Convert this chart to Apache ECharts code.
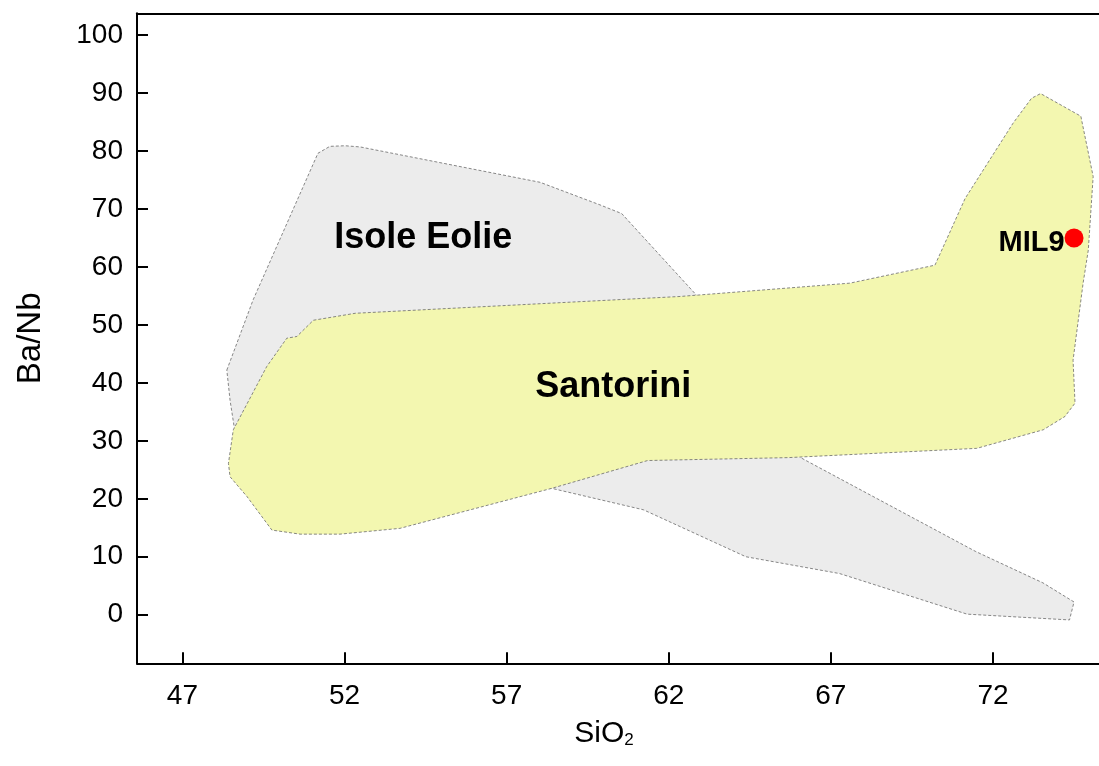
<!DOCTYPE html>
<html>
<head>
<meta charset="utf-8">
<script src="https://cdn.jsdelivr.net/npm/echarts@6/dist/echarts.min.js"></script>
<style>
  html, body { margin: 0; padding: 0; background: #ffffff; }
  #chart { width: 1099px; height: 766px; }
</style>
</head>
<body>
<div id="chart"></div>
<script>
// ---- Tick labels ----
const xTicks = [47, 52, 57, 62, 67, 72];
const yTicks = [0, 10, 20, 30, 40, 50, 60, 70, 80, 90, 100];

// ---- Isole Eolie field (SiO2, Ba/Nb outline) ----
const eolieSiO2 = [48.37, 49.18, 51.18, 51.55, 52.02, 52.48, 58.03, 59.88, 60.55, 62.86, 66.10, 71.47, 73.54, 74.50, 74.36, 71.20, 67.27, 64.38, 61.22, 58.39, 55.25, 50.63, 48.66, 48.47];
const eolieBaNb = [42.2, 54.3, 79.6, 80.8, 80.9, 80.7, 74.6, 70.7, 69.2, 55.1, 27.0, 10.9, 5.5, 2.2, -0.9, 0.1, 7.1, 10.0, 18.1, 21.8, 25.0, 30.1, 30.1, 37.0];

// ---- Santorini field (SiO2, Ba/Nb outline) ----
const santoriniSiO2 = [51.04, 52.33, 62.35, 67.59, 70.21, 71.14, 72.62, 73.19, 73.47, 74.71, 75.09, 74.94, 74.78, 74.47, 74.53, 74.22, 73.55, 71.50, 65.68, 61.35, 58.39, 53.71, 51.86, 50.63, 49.76, 48.99, 48.47, 48.42, 48.57, 49.60, 50.22, 50.53];
const santoriniBaNb = [50.8, 52.0, 54.9, 57.2, 60.3, 71.8, 84.8, 89.1, 89.9, 86.0, 75.6, 62.9, 57.2, 43.9, 36.5, 34.2, 31.9, 28.7, 27.1, 26.6, 21.8, 14.9, 13.9, 13.9, 14.6, 20.4, 23.8, 26.1, 31.9, 42.8, 47.7, 48.0];

// ---- Field names and where they are written ----
const fieldNames = ['Isole Eolie', 'Santorini'];
const fieldNameSiO2 = [54.43, 60.29];
const fieldNameBaNb = [65.0, 39.3];

// ---- Sample ----
const sampleNames = ['MIL9'];
const sampleSiO2 = [74.5];
const sampleBaNb = [65.0];

const FONT = '"Liberation Sans", Arial, Helvetica, sans-serif';
const X_MIN = 45.6, X_MAX = 75.27, Y_MIN = -8.38, Y_MAX = 103.75;

function polygonSeries(name, xs, ys, fill) {
  return {
    type: 'custom',
    name: name,
    coordinateSystem: 'cartesian2d',
    xAxisIndex: 0,
    yAxisIndex: 0,
    silent: true,
    clip: true,
    encode: { x: 0, y: 1 },
    data: xs.map((x, i) => [x, ys[i]]),
    renderItem: function (params, api) {
      if (params.dataIndex !== 0) return null;
      const pts = xs.map((x, i) => api.coord([x, ys[i]]));
      return {
        type: 'polygon',
        shape: { points: pts },
        style: {
          fill: fill,
          stroke: '#6a6a6a',
          lineWidth: 0.8,
          lineDash: [3, 2]
        }
      };
    }
  };
}

const chart = echarts.init(document.getElementById('chart'), null, { renderer: 'canvas' });

const option = {
  animation: false,
  backgroundColor: '#ffffff',
  grid: { left: 137, right: 0, top: 13.3, bottom: 102.7, containLabel: false },
  xAxis: [
    {
      type: 'value',
      min: X_MIN,
      max: X_MAX,
      name: 'SiO{sub|2}',
      nameLocation: 'middle',
      nameGap: 55,
      nameTextStyle: {
        fontFamily: FONT, fontSize: 30, color: '#000',
        padding: [0, 28, 0, 0],
        rich: { sub: { fontFamily: FONT, fontSize: 17, color: '#000', verticalAlign: 'bottom', padding: [14, 0, 0, 0] } }
      },
      axisLine: { show: true, onZero: false, lineStyle: { color: '#000', width: 2 } },
      axisTick: { show: true, inside: true, length: 11, customValues: xTicks, lineStyle: { color: '#000', width: 2 } },
      axisLabel: { show: true, customValues: xTicks, margin: 19, fontFamily: FONT, fontSize: 28, color: '#000' },
      splitLine: { show: false }
    },
    {
      type: 'value',
      position: 'top',
      min: X_MIN,
      max: X_MAX,
      axisLine: { show: true, onZero: false, lineStyle: { color: '#000', width: 2 } },
      axisTick: { show: false },
      axisLabel: { show: false },
      splitLine: { show: false }
    }
  ],
  yAxis: {
    type: 'value',
    min: Y_MIN,
    max: Y_MAX,
    name: 'Ba/Nb',
    nameLocation: 'middle',
    nameRotate: 90,
    nameGap: 90,
    nameTextStyle: { fontFamily: FONT, fontSize: 33, color: '#000' },
    axisLine: { show: true, onZero: false, lineStyle: { color: '#000', width: 2 } },
    axisTick: { show: true, inside: true, length: 11, customValues: yTicks, lineStyle: { color: '#000', width: 2 } },
    axisLabel: { show: true, customValues: yTicks, margin: 14, fontFamily: FONT, fontSize: 28, color: '#000' },
    splitLine: { show: false }
  },
  series: [
    polygonSeries('Isole Eolie', eolieSiO2, eolieBaNb, '#ececec'),
    polygonSeries('Santorini', santoriniSiO2, santoriniBaNb, '#f3f7b0'),
    {
      type: 'scatter',
      name: 'field names',
      silent: true,
      symbolSize: 0,
      itemStyle: { opacity: 1 },
      data: fieldNames.map((n, i) => ({ name: n, value: [fieldNameSiO2[i], fieldNameBaNb[i]] })),
      label: {
        show: true,
        position: 'inside',
        formatter: '{b}',
        fontFamily: FONT,
        fontSize: 36,
        fontWeight: 'bold',
        color: '#000',
        opacity: 1
      }
    },
    {
      type: 'scatter',
      name: 'samples',
      symbol: 'circle',
      symbolSize: 19,
      itemStyle: { color: '#ff0000', opacity: 1 },
      data: sampleNames.map((n, i) => ({ name: n, value: [sampleSiO2[i], sampleBaNb[i]] })),
      label: {
        show: true,
        position: 'left',
        distance: 0,
        offset: [0, 5],
        formatter: '{b}',
        fontFamily: FONT,
        fontSize: 29,
        fontWeight: 'bold',
        color: '#000',
        opacity: 1
      }
    }
  ]
};

chart.setOption(option);
</script>
</body>
</html>
